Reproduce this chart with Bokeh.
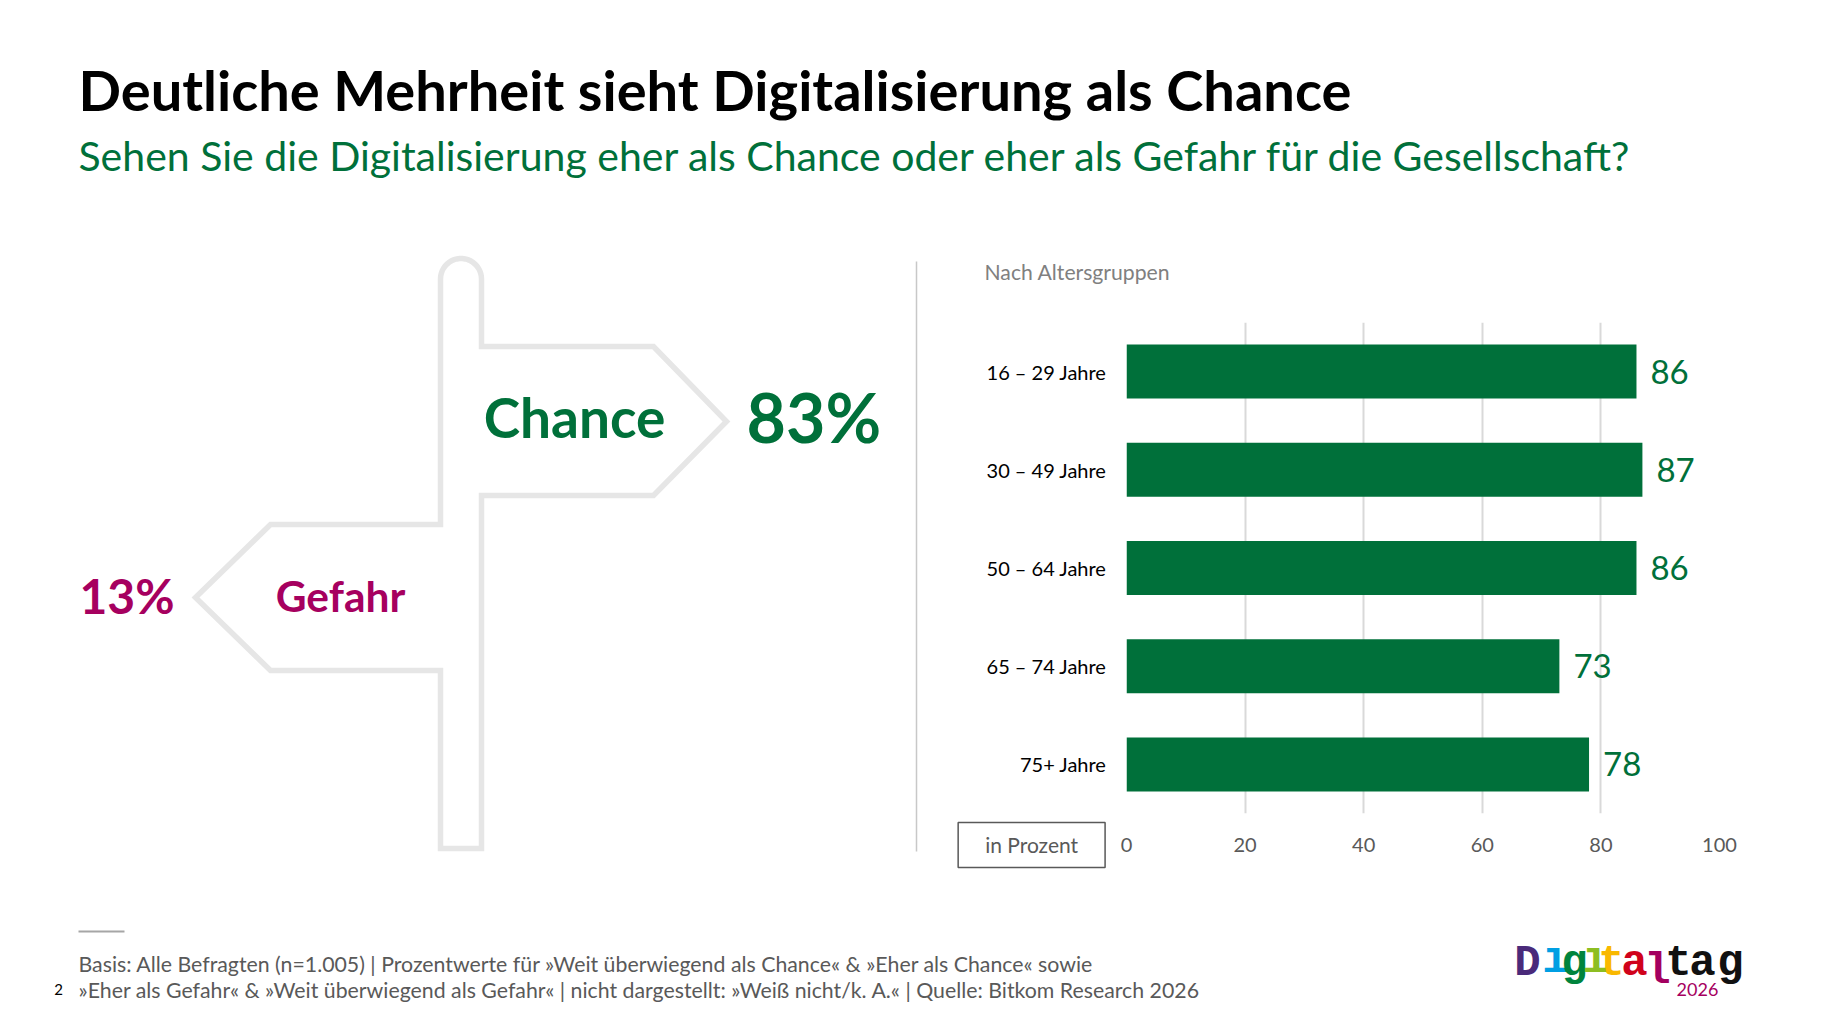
import numpy as np
from bokeh.plotting import figure
from bokeh.models import Range1d, FactorRange, Label, ColumnDataSource
from bokeh.layouts import column, row
from bokeh.embed import file_html
from bokeh.resources import INLINE
from bokeh.core.properties import value

# ---------------- data ----------------
title_text = "Deutliche Mehrheit sieht Digitalisierung als Chance"
subtitle_text = "Sehen Sie die Digitalisierung eher als Chance oder eher als Gefahr für die Gesellschaft?"
overall_labels = ["Chance", "Gefahr"]
overall_values = [83, 13]
panel_title = "Nach Altersgruppen"
age_groups = ["16 – 29 Jahre", "30 – 49 Jahre", "50 – 64 Jahre", "65 – 74 Jahre", "75+ Jahre"]
age_values = [86, 87, 86, 73, 78]
x_ticks = [0, 20, 40, 60, 80, 100]
unit_label = "in Prozent"
footnote_lines = [
    "Basis: Alle Befragten (n=1.005) | Prozentwerte für »Weit überwiegend als Chance« & »Eher als Chance«  sowie",
    "»Eher als Gefahr« & »Weit überwiegend als Gefahr« | nicht dargestellt: »Weiß nicht/k. A.« | Quelle: Bitkom Research 2026",
]
page_number = "2"
logo_letters = ["D", "ı", "g", "ı", "t", "a", "l", "t", "a", "g"]
logo_year = "2026"

# ---------------- styles ----------------
FONT = "Lato"
GREEN = "#00703A"
MAGENTA = "#A6005F"
GRAY_TXT = "#595959"
SIGN = "#E6E6E6"
W = 1822


def canvas(w, h, x0, y0):
    p = figure(width=w, height=h, x_range=Range1d(x0, x0 + w), y_range=Range1d(y0 + h, y0),
               output_backend="svg", toolbar_location=None, min_border=0,
               x_axis_location=None, y_axis_location=None, frame_align=False)
    p.grid.visible = False
    p.outline_line_color = None
    p.background_fill_color = "white"
    p.border_fill_color = "white"
    return p


def txt(p, x, y, s, size, color, bold=False, align="left", baseline="middle", font=FONT):
    p.text(x=[x], y=[y], text=[s], text_font=value(font), text_font_size=value(f"{size}px"),
           text_font_style="bold" if bold else "normal", text_color=color,
           text_align=align, text_baseline=baseline)


# ---------------- header ----------------
H_TOP = 200
header = canvas(W, H_TOP, 0, 0)
txt(header, 78, 89, title_text, 56, "black", bold=True)
txt(header, 78, 155, subtitle_text, 41, GREEN)

# ---------------- signpost (left) ----------------
ROW_BOTTOM = 923
MID_W, MID_H = 940, ROW_BOTTOM - H_TOP
mid = canvas(MID_W, MID_H, 0, H_TOP)
L, R, top = 440, 481, 258
r = (R - L) / 2
cx, cy = (L + R) / 2, top + r
th = np.linspace(np.pi, 0, 24)
arc_x = list(cx + r * np.cos(th))
arc_y = list(cy - r * np.sin(th))
px = arc_x + [R, 653, 726, 653, R, R, L, L, 270, 195, 270, L]
py = arc_y + [346, 346, 421, 495, 495, 848, 848, 670, 670, 597, 524, 524]
mid.patch(px, py, fill_color="white", line_color=SIGN, line_width=5.5, line_join="miter")
mid.line([916, 916], [261, 851], line_color="#C8C8C8", line_width=1.5)

txt(mid, 574, 416, overall_labels[0], 55, GREEN, bold=True, align="center")
txt(mid, 746, 416, f"{overall_values[0]}%", 68, GREEN, bold=True, align="left")
txt(mid, 340, 595, overall_labels[1], 42.5, MAGENTA, bold=True, align="center")
txt(mid, 79, 595, f"{overall_values[1]}%", 48, MAGENTA, bold=True, align="left")

# ---------------- right column: panel heading + bar chart ----------------
RW = W - MID_W
RTOP_H = 100
rtop = canvas(RW, RTOP_H, MID_W, H_TOP)
txt(rtop, 984, 271, panel_title, 21.2, "#808080")

src = ColumnDataSource(dict(group=age_groups, value=age_values, label=[str(v) for v in age_values]))
bar = figure(width=RW, height=MID_H - RTOP_H, x_range=Range1d(0, 100),
             y_range=FactorRange(factors=age_groups[::-1]),
             output_backend="svg", toolbar_location=None, frame_align=False,
             min_border_left=186, min_border_right=103, min_border_top=22, min_border_bottom=110)
bar.outline_line_color = None
bar.hbar(y="group", left=0, right="value", height=0.55, source=src, fill_color=GREEN, line_color=None)
bar.text(x="value", y="group", text="label", source=src, x_offset=14, text_font=value(FONT),
         text_font_size=value("33px"), text_color=GREEN, text_baseline="middle", text_align="left")
bar.xgrid.ticker = x_ticks
bar.xgrid.grid_line_color = "#D9D9D9"
bar.xgrid.grid_line_width = 2
bar.ygrid.grid_line_color = None
bar.xaxis.ticker = x_ticks
for ax in (bar.xaxis[0], bar.yaxis[0]):
    ax.axis_line_color = None
    ax.major_tick_line_color = None
    ax.minor_tick_line_color = None
    ax.major_label_text_font = FONT
bar.xaxis.major_label_text_font_size = "20px"
bar.xaxis.major_label_text_color = GRAY_TXT
bar.xaxis.major_label_standoff = 18
bar.yaxis.major_label_text_font_size = "20px"
bar.yaxis.major_label_text_color = "black"
bar.yaxis.major_label_standoff = 14

# unit box, in a side panel (not clipped), positioned in the chart's data units
bar.add_layout(Label(x=-16, y=-0.32, text=unit_label,
                     text_font=FONT, text_font_size="21px", text_color=GRAY_TXT,
                     text_align="center", text_baseline="middle",
                     border_line_color=GRAY_TXT, border_line_width=1.5,
                     background_fill_color="white",
                     padding=dict(left=27, right=27, top=10, bottom=10)), "below")

# ---------------- footer ----------------
F_H = 1024 - ROW_BOTTOM
foot = canvas(W, F_H, 0, ROW_BOTTOM)
foot.line([78, 124], [931, 931], line_color="#A6A6A6", line_width=2)
txt(foot, 78, 963, footnote_lines[0], 21.3, GRAY_TXT)
txt(foot, 78, 989, footnote_lines[1], 21.3, GRAY_TXT)
txt(foot, 58, 989, page_number, 15, "black", align="center")

logo_x = [1527, 1555, 1574, 1595, 1611, 1634, 1657, 1678, 1702, 1730]
logo_dy = [0, -3, 0, -3, 0, 0, 8, 0, 0, 0]
logo_col = ["#4A2A7A", "#009FE3", "#00843D", "#8DBE22", "#F9B800", "#D0021B", "#A3005F",
            "#111111", "#111111", "#111111"]
for lx, dy, c, ch in zip(logo_x, logo_dy, logo_col, logo_letters):
    txt(foot, lx, 962 + dy, ch, 44, c, bold=True, align="center", font="Liberation Mono")
txt(foot, 1697, 989, logo_year, 18, MAGENTA, align="center")

page = column(header, row(mid, column(rtop, bar)), foot)
open("out.html", "w").write(file_html(page, INLINE))
